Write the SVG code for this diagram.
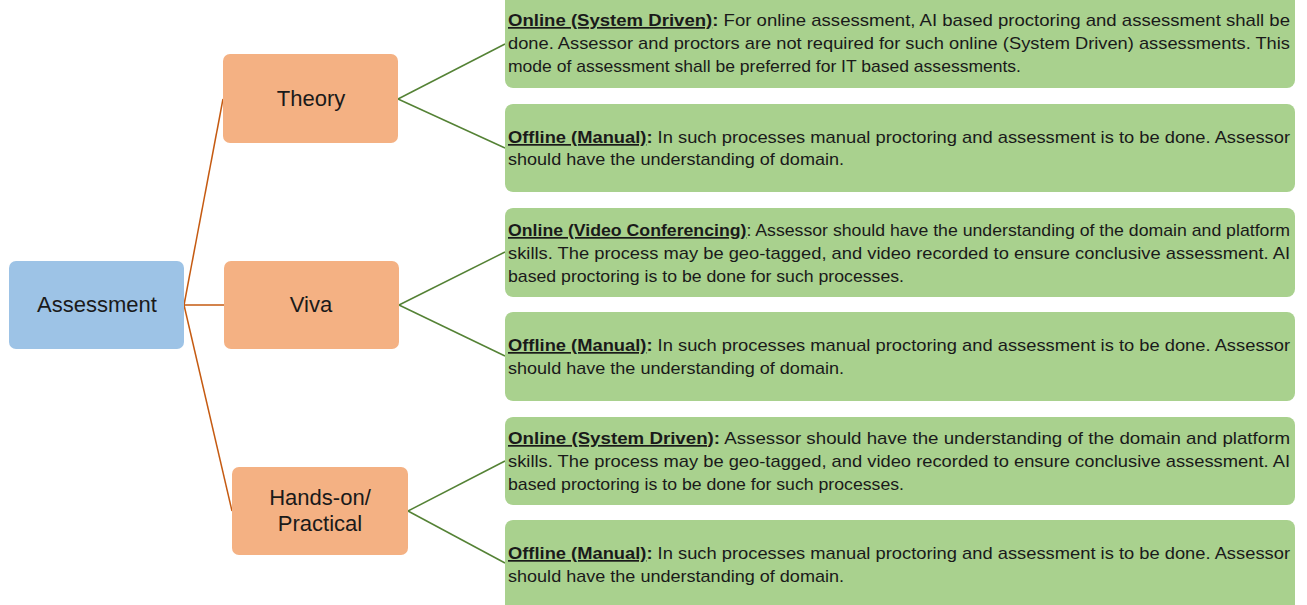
<svg xmlns="http://www.w3.org/2000/svg" width="1307" height="605" viewBox="0 0 1307 605">
<style>
.node text{font-family:"Liberation Sans",Arial,sans-serif;font-size:22px;fill:#1a1a1a;text-anchor:middle}
.blue{fill:#9dc3e6}
.orange{fill:#f4b183}
.green{fill:#a9d18e}
.desc{font-family:"Liberation Sans",Arial,sans-serif;font-size:17px;fill:#1a1a1a}
.lead{font-weight:bold;text-decoration:underline}
.b{font-weight:bold}
.oc{stroke:#c55a11;stroke-width:1.5;fill:none}
.gc{stroke:#548235;stroke-width:1.5;fill:none}
</style>
<rect width="1307" height="605" fill="#ffffff"/>
<g id="connectors">
<line class="oc" x1="184" y1="305" x2="223" y2="99"/>
<line class="oc" x1="184" y1="305" x2="224" y2="305"/>
<line class="oc" x1="184" y1="305" x2="232" y2="511"/>
<line class="gc" x1="398" y1="99" x2="505" y2="44"/>
<line class="gc" x1="398" y1="99" x2="505" y2="148"/>
<line class="gc" x1="399" y1="305" x2="505" y2="252"/>
<line class="gc" x1="399" y1="305" x2="505" y2="356"/>
<line class="gc" x1="408" y1="511" x2="505" y2="461"/>
<line class="gc" x1="408" y1="511" x2="505" y2="563"/>
</g>
<g id="assessment" class="node">
<rect class="blue" x="9" y="261" width="175" height="88" rx="7"/>
<text x="97" y="312">Assessment</text>
</g>
<g id="theory" class="node">
<rect class="orange" x="223" y="54" width="175" height="89" rx="7"/>
<text x="311" y="106">Theory</text>
</g>
<g id="viva" class="node">
<rect class="orange" x="224" y="261" width="175" height="88" rx="7"/>
<text x="311" y="312">Viva</text>
</g>
<g id="handson" class="node">
<rect class="orange" x="232" y="467" width="176" height="88" rx="7"/>
<text x="320" y="505">Hands-on/</text>
<text x="320" y="531">Practical</text>
</g>
<g id="theory-online">
<rect class="green" x="505" y="-8" width="790" height="96" rx="8"/>
<text class="desc" x="508" y="26" textLength="782" lengthAdjust="spacingAndGlyphs"><tspan class="lead">Online (System Driven)</tspan><tspan class="b">:</tspan> For online assessment, AI based proctoring and assessment shall be</text>
<text class="desc" x="508" y="49" textLength="782" lengthAdjust="spacingAndGlyphs">done. Assessor and proctors are not required for such online (System Driven) assessments. This</text>
<text class="desc" x="508" y="72" textLength="513" lengthAdjust="spacingAndGlyphs">mode of assessment shall be preferred for IT based assessments.</text>
</g>
<g id="theory-offline">
<rect class="green" x="505" y="104" width="790" height="88" rx="8"/>
<text class="desc" x="508" y="143" textLength="782" lengthAdjust="spacingAndGlyphs"><tspan class="lead">Offline (Manual)</tspan><tspan class="b">:</tspan> In such processes manual proctoring and assessment is to be done. Assessor</text>
<text class="desc" x="508" y="165" textLength="336" lengthAdjust="spacingAndGlyphs">should have the understanding of domain.</text>
</g>
<g id="viva-online">
<rect class="green" x="505" y="208" width="790" height="89" rx="8"/>
<text class="desc" x="508" y="236" textLength="782" lengthAdjust="spacingAndGlyphs"><tspan class="lead">Online (Video Conferencing)</tspan>: Assessor should have the understanding of the domain and platform</text>
<text class="desc" x="508" y="259" textLength="782" lengthAdjust="spacingAndGlyphs">skills. The process may be geo-tagged, and video recorded to ensure conclusive assessment. AI</text>
<text class="desc" x="508" y="282" textLength="396" lengthAdjust="spacingAndGlyphs">based proctoring is to be done for such processes.</text>
</g>
<g id="viva-offline">
<rect class="green" x="505" y="312" width="790" height="89" rx="8"/>
<text class="desc" x="508" y="351" textLength="782" lengthAdjust="spacingAndGlyphs"><tspan class="lead">Offline (Manual)</tspan><tspan class="b">:</tspan> In such processes manual proctoring and assessment is to be done. Assessor</text>
<text class="desc" x="508" y="374" textLength="336" lengthAdjust="spacingAndGlyphs">should have the understanding of domain.</text>
</g>
<g id="handson-online">
<rect class="green" x="505" y="417" width="790" height="88" rx="8"/>
<text class="desc" x="508" y="444" textLength="782" lengthAdjust="spacingAndGlyphs"><tspan class="lead">Online (System Driven)</tspan><tspan class="b">:</tspan> Assessor should have the understanding of the domain and platform</text>
<text class="desc" x="508" y="467" textLength="782" lengthAdjust="spacingAndGlyphs">skills. The process may be geo-tagged, and video recorded to ensure conclusive assessment. AI</text>
<text class="desc" x="508" y="490" textLength="396" lengthAdjust="spacingAndGlyphs">based proctoring is to be done for such processes.</text>
</g>
<g id="handson-offline">
<rect class="green" x="505" y="520" width="790" height="95" rx="8"/>
<text class="desc" x="508" y="559" textLength="782" lengthAdjust="spacingAndGlyphs"><tspan class="lead">Offline (Manual)</tspan><tspan class="b">:</tspan> In such processes manual proctoring and assessment is to be done. Assessor</text>
<text class="desc" x="508" y="582" textLength="336" lengthAdjust="spacingAndGlyphs">should have the understanding of domain.</text>
</g>
</svg>
